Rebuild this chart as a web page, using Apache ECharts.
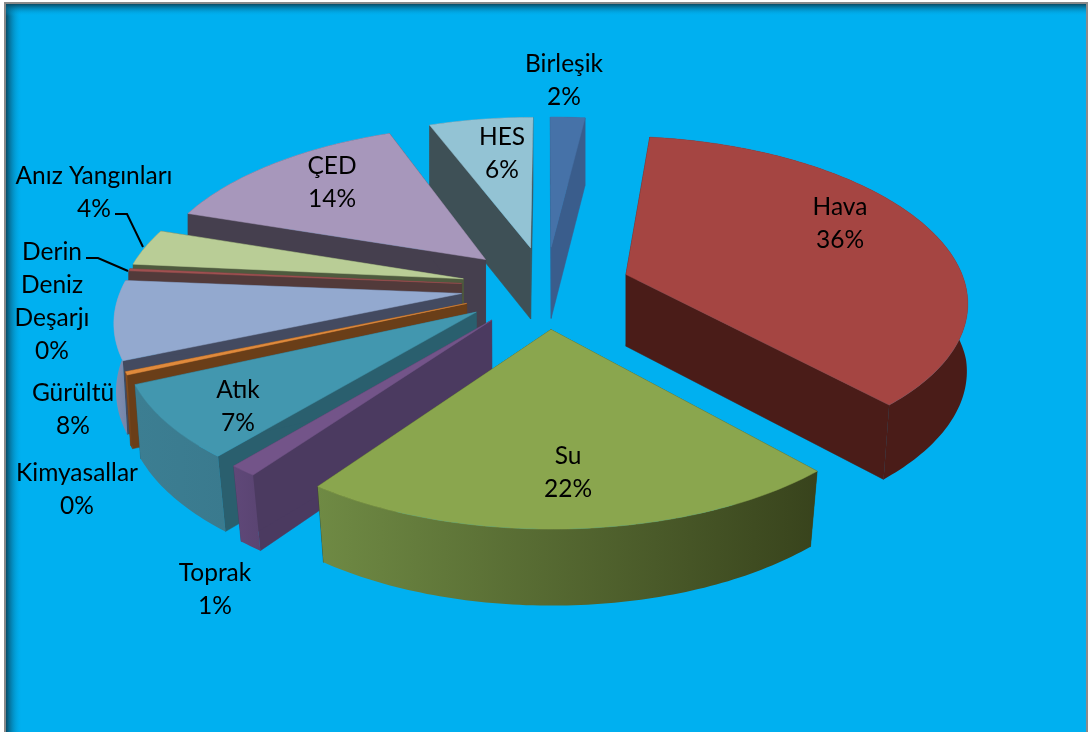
<!DOCTYPE html>
<html><head><meta charset="utf-8">
<style>html,body{margin:0;padding:0;background:#fff}#c{width:1089px;height:732px}</style>
<script src="https://cdn.jsdelivr.net/npm/echarts@6/dist/echarts.min.js"></script>
</head><body><div id="c"></div>
<script>
// Data, in chart order (clockwise from 12 o'clock)
const names = ['Birleşik','Hava','Su','Toprak','Atık','Kimyasallar','Gürültü','Derin\nDeniz\nDeşarjı','Anız Yangınları','ÇED','HES'];
const values = [2,36,22,1.1,7.2,0.3,7.5,0.2,3.5,14,6];
const topColors = ['#4672A8','#A54542','#8AA64E','#735489','#4297AF','#E08A3C','#93A9CF','#A05050','#B9CD96','#A797BB','#93C3D4'];
const wallColors = ['#3A5D8C','#4A1C18','#38431C','#4B3A60','#2A5F6E','#6A3E18','#434A60','#523A3A','#4E5A3E','#453F4E','#3E5056'];
const outerLeft = ['#3A5D8C','#4A1C18','#6F8A44','#5F4878','#3C7E92','#8A5020','#8090B4','#523A3A','#4E5A3E','#453F4E','#3E5056'];
const outerRight = ['#3A5D8C','#4A1C18','#38431C','#5A4472','#3A7A8E','#6A3E18','#7585A8','#523A3A','#4E5A3E','#453F4E','#3E5056'];

// Layout
const labelCentres = [[564,81],[840,224],[568,473],[215,590],[238,407],[77,490],[73,410],[52,302],[94,193],[332,183],[502,154]];
const leaders = {7:[[86,258],[98,258],[128,271]], 8:[[115,214],[127,214],[143,247]]};
const CX=546, CY=287, R=340, TILT=0.485, PX=0.15, PY=0.14, DEPTH=72, DP=0.05, CONV=0.025, EXPLODE=0.25;

const total = values.reduce((a,b)=>a+b,0);
const starts = []; values.reduce((a,v,i)=>{starts[i]=a; return a+v;},0);
function proj(u,v,h){
  const c = 1-CONV*h*Math.min(1,Math.max(0,v));
  return [CX+R*u*(1+PX*v)*c, CY+R*TILT*v*(1+PY*v)+h*DEPTH*(1+DP*v)];
}

// back-to-front paint order
const order = values.map((v,i)=>i).sort((a,b)=>{
  const m=i=>(starts[i]+values[i]/2)/total*2*Math.PI;
  return -Math.cos(m(a)) - -Math.cos(m(b));
});

function renderItem(params, api){
  const i = api.value(0), val = api.value(1), st = api.value(2), rank = params.dataIndex;
  const a0 = st/total*2*Math.PI, a1 = (st+val)/total*2*Math.PI, am=(a0+a1)/2;
  const ou = EXPLODE*Math.sin(am), ov = -EXPLODE*Math.cos(am);
  const n = Math.max(2, Math.ceil((a1-a0)/(Math.PI/180)));
  const rim = [];
  for(let j=0;j<=n;j++){const a=a0+(a1-a0)*j/n; rim.push([ou+Math.sin(a), ov-Math.cos(a)]);}
  const poly=(pts,fill,z)=>({type:'polygon',shape:{points:pts},z2:rank*4+z,silent:true,
    style:{fill:fill,stroke:typeof fill==='string'?fill:null,lineWidth:0.5}});
  const wall=(p)=>[proj(ou,ov,0),proj(p[0],p[1],0),proj(p[0],p[1],1),proj(ou,ov,1)];
  const topPts=[proj(ou,ov,0)].concat(rim.map(p=>proj(p[0],p[1],0)));
  const outerPts=rim.map(p=>proj(p[0],p[1],0)).concat(rim.slice().reverse().map(p=>proj(p[0],p[1],1)));
  const xs=outerPts.map(p=>p[0]);
  const grad={type:'linear',global:true,x:Math.min.apply(null,xs),y:0,x2:Math.max.apply(null,xs),y2:0,
    colorStops:[{offset:0,color:outerLeft[i]},{offset:1,color:outerRight[i]}]};
  const children=[
    poly(wall(rim[0]),wallColors[i],0),
    poly(wall(rim[n]),wallColors[i],0),
    poly(outerPts,grad,1),
    poly(topPts,topColors[i],2)
  ];
  const pct=Math.round(val/total*100);
  children.push({type:'text',z2:1000,silent:true,style:{
    x:labelCentres[i][0],y:labelCentres[i][1],text:names[i]+'\n'+pct+'%',
    font:'24.5px Lato, "Open Sans", sans-serif',fill:'#000',align:'center',verticalAlign:'middle',lineHeight:33}});
  if(leaders[i]) children.push({type:'polyline',z2:999,silent:true,shape:{points:leaders[i]},style:{stroke:'#000',lineWidth:2,fill:null}});
  return {type:'group',children};
}

const chart = echarts.init(document.getElementById('c'),null,{renderer:'canvas'});
const W=1089,H=732;
chart.setOption({
  animation:false,
  backgroundColor:'#FFFFFF',
  graphic:{elements:[
    {type:'rect',z:-5,silent:true,shape:{x:4,y:2,width:W-5,height:H},style:{fill:'#8A8A8A'}},
    {type:'rect',z:-4,silent:true,shape:{x:6,y:4,width:W-9,height:H},style:{fill:'#00B0F0'}},
    {type:'rect',z:-3,silent:true,shape:{x:6,y:4,width:16,height:H},style:{fill:{type:'linear',x:0,y:0,x2:1,y2:0,colorStops:[{offset:0,color:'rgba(8,70,95,0.95)'},{offset:1,color:'rgba(0,176,240,0)'}]}}},
    {type:'rect',z:-3,silent:true,shape:{x:6,y:4,width:W-9,height:12},style:{fill:{type:'linear',x:0,y:0,x2:0,y2:1,colorStops:[{offset:0,color:'rgba(8,70,95,0.95)'},{offset:1,color:'rgba(0,176,240,0)'}]}}}
  ]},
  series:[{type:'custom',coordinateSystem:'none',renderItem,clip:false,silent:true,
    data:order.map(i=>[i,values[i],starts[i]])}]
});
</script></body></html>
